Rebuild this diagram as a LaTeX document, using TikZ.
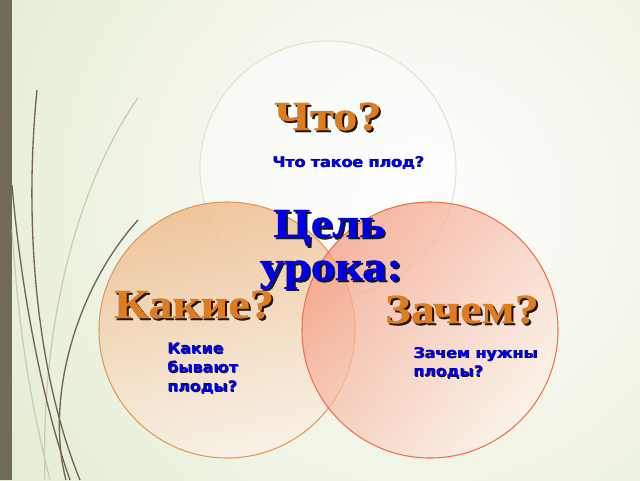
\documentclass[tikz,border=0pt]{standalone}
\usepackage{fontspec}
\setmainfont{Liberation Serif}
\newfontfamily\qfont[FakeStretch=1.17,FakeBold=0.8]{Liberation Serif}
\newfontfamily\cuefont[FakeStretch=1.08]{DejaVu Sans}
\usetikzlibrary{positioning}
\definecolor{bggreen}{RGB}{219,230,196}
\definecolor{barbrown}{RGB}{113,106,84}
\definecolor{grassdark}{RGB}{112,102,82}
\definecolor{grasslight}{RGB}{200,202,178}
\definecolor{qorange}{RGB}{222,124,34}
\definecolor{qblue}{RGB}{0,0,230}
\definecolor{peach}{RGB}{238,186,138}
\definecolor{peachlight}{RGB}{250,242,232}
\definecolor{salmon}{RGB}{244,158,132}
\definecolor{salmonlight}{RGB}{252,242,232}
\definecolor{peachline}{RGB}{232,150,78}
\definecolor{salmonline}{RGB}{240,110,78}
\definecolor{paleline}{RGB}{224,228,204}

% text with a drop shadow: offset, colour, text
\newcommand\shadowed[3]{\leavevmode\rlap{\kern#1\raisebox{-#1}{\color{black!90}#3}}{\color{#2}#3}}

\tikzset{
  bigq/.style = {font=\qfont\bfseries\fontsize{31}{34}\selectfont, inner sep=0pt, anchor=base},
  cue/.style = {font=\cuefont\bfseries\fontsize{11}{14}\selectfont, align=left, inner sep=0pt, anchor=north west},
  ring/.style = {line width=0.8pt},
  grass/.style = {draw=grassdark, line width=1pt},
  pale grass/.style = {draw=grasslight, line width=0.9pt}
}

\begin{document}
\begin{tikzpicture}[x=0.75pt, y=-0.75pt]
    \useasboundingbox (0,0) rectangle (640,480);

    % background and side bar
    \fill[bggreen] (0,0) rectangle (640,480);
    \begin{scope}
      \clip (0,0) rectangle (640,480);
      \shade[inner color=white, outer color=bggreen] (420,205) circle[radius=500pt];
    \end{scope}
    \fill[barbrown] (0,0) rectangle (12,480);

    % grass on the left
    \draw[pale grass] (138,98) .. controls (80,180) and (40,320) .. (45,480);
    \draw[pale grass] (12,230) .. controls (20,350) and (35,420) .. (50,480);
    \draw[grass] (37,90) .. controls (24,220) and (35,370) .. (80,480);
    \draw[grass] (12,185) .. controls (22,300) and (45,410) .. (70,480);
    \draw[grass] (138,220) .. controls (75,290) and (45,400) .. (66,480);

    % three circles
    \filldraw[ring, draw=paleline, fill=white, fill opacity=0.45] (328,169) circle[radius=96pt];
    \shade[top color=peach, bottom color=peachlight, shading angle=10, fill opacity=0.8] (227,330) circle[radius=96pt];
    \draw[ring, peachline] (227,330) circle[radius=96pt];
    \shade[top color=salmon, bottom color=salmonlight, shading angle=50, fill opacity=0.75] (430,330) circle[radius=96pt];
    \draw[ring, salmonline] (430,330) circle[radius=96pt];

    % questions
    \node[bigq] (what) at (328,130) {\shadowed{1.5pt}{qorange}{Что?}};
    \node[bigq] (goal) at (329,237) {\shadowed{1.5pt}{qblue}{Цель}};
    \node[bigq] (lesson) at (331,280) {\shadowed{1.5pt}{qblue}{урока:}};
    \node[bigq] (which) at (194,318) {\shadowed{1.5pt}{qorange}{Какие?}};
    \node[bigq] (why) at (462,323) {\shadowed{1.5pt}{qorange}{Зачем?}};

    % small cues
    \node[cue] (whatcue) at (272,156) {\shadowed{0.6pt}{qblue}{Что такое плод?}};
    \node[cue] (whichcue) at (167,343) {\shadowed{0.6pt}{qblue}{Какие}\\\shadowed{0.6pt}{qblue}{бывают}\\\shadowed{0.6pt}{qblue}{плоды?}};
    \node[cue] (whycue) at (413,347) {\shadowed{0.6pt}{qblue}{Зачем нужны}\\\shadowed{0.6pt}{qblue}{плоды?}};

  \end{tikzpicture}
\end{document}
